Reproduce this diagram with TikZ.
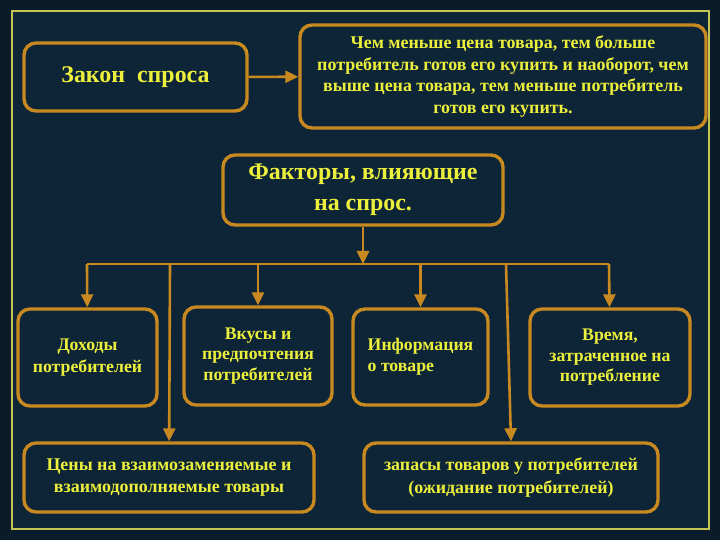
\documentclass[tikz,border=0pt]{standalone}
\usepackage{fontspec}
\setmainfont{Liberation Serif}
\usetikzlibrary{arrows.meta, positioning}

\definecolor{pagebg}{RGB}{10,27,41}
\definecolor{panelbg}{RGB}{14,37,55}
\definecolor{framecol}{RGB}{196,196,84}
\definecolor{boxcol}{RGB}{200,138,32}
\definecolor{txtcol}{RGB}{236,240,60}

\begin{document}
\begin{tikzpicture}[
    x=1bp, y=-1bp,
    box/.style={
        rectangle, rounded corners=12bp,
        draw=boxcol, line width=3.4bp,
        fill=panelbg, text=txtcol,
        align=center, inner sep=2bp,
        font=\bfseries},
    arr/.style={-{Triangle[length=13bp,width=12bp]}, line width=2.6bp, color=boxcol},
    bus/.style={line width=2.6bp, color=boxcol}]

% background and frame
\useasboundingbox (0,0) rectangle (720,540);
\fill[pagebg] (0,0) rectangle (720,540);
\draw[framecol, line width=1.8bp, fill=panelbg] (12,11) rectangle (709,529);

\node[box, minimum width=223bp, minimum height=68bp,
      font=\fontsize{24}{28}\selectfont\bfseries] (zakon) at (135.5,77) {Закон\ \ спроса};
\node[box, minimum width=406bp, minimum height=103bp,
      font=\fontsize{18}{21.7}\selectfont\bfseries] (rule) at (503,76.5)
      {Чем меньше цена товара, тем больше\\
       потребитель готов его купить и наоборот, чем\\
       выше цена товара, тем меньше потребитель\\
       готов его купить.};
\node[box, minimum width=280bp, minimum height=70bp,
      font=\fontsize{24}{31}\selectfont\bfseries] (factors) at (363,190)
      {Факторы, влияющие\\ на спрос.};

\node[box, minimum width=139bp, minimum height=97bp,
      font=\fontsize{17.8}{21.5}\selectfont\bfseries] (income) at (87.5,357.5)
      {Доходы\\ потребителей};
\node[box, minimum width=148bp, minimum height=98bp,
      font=\fontsize{17.8}{20.5}\selectfont\bfseries] (tastes) at (258,356)
      {Вкусы и\\ предпочтения\\ потребителей};
\node[box, minimum width=135bp, minimum height=96bp, align=left,
      font=\fontsize{17.8}{21.5}\selectfont\bfseries] (info) at (420.5,357)
      {Информация\\ о товаре};
\node[box, minimum width=160bp, minimum height=97bp,
      font=\fontsize{17.8}{20.5}\selectfont\bfseries] (time) at (610,357.5)
      {Время,\\ затраченное на\\ потребление};

\node[box, minimum width=290bp, minimum height=69bp,
      font=\fontsize{18}{22.5}\selectfont\bfseries] (prices) at (169,477.5)
      {Цены на взаимозаменяемые и\\ взаимодополняемые товары};
\node[box, minimum width=294bp, minimum height=69bp,
      font=\fontsize{18}{22.5}\selectfont\bfseries] (stocks) at (511,477.5)
      {запасы товаров у потребителей\\ (ожидание потребителей)};

% bus line
\coordinate (busL) at (87,264);
\coordinate (busR) at (609,264);
\coordinate (busC) at (363,264);
\coordinate (busP) at (170,264);
\coordinate (busS) at (506,264);

\draw[arr] (zakon) -- (rule);
\draw[arr] (factors) -- (busC);
\draw[bus] (busL) -- (busR);
\draw[arr] (busL) -- (income);
\draw[arr] (tastes |- busL) -- (tastes);
\draw[arr] (info |- busL) -- (info);
\draw[arr] (busR) -- (time);
\draw[arr] (busP) -- (prices);
\draw[arr] (busS) -- (stocks.north);

\end{tikzpicture}
\end{document}
